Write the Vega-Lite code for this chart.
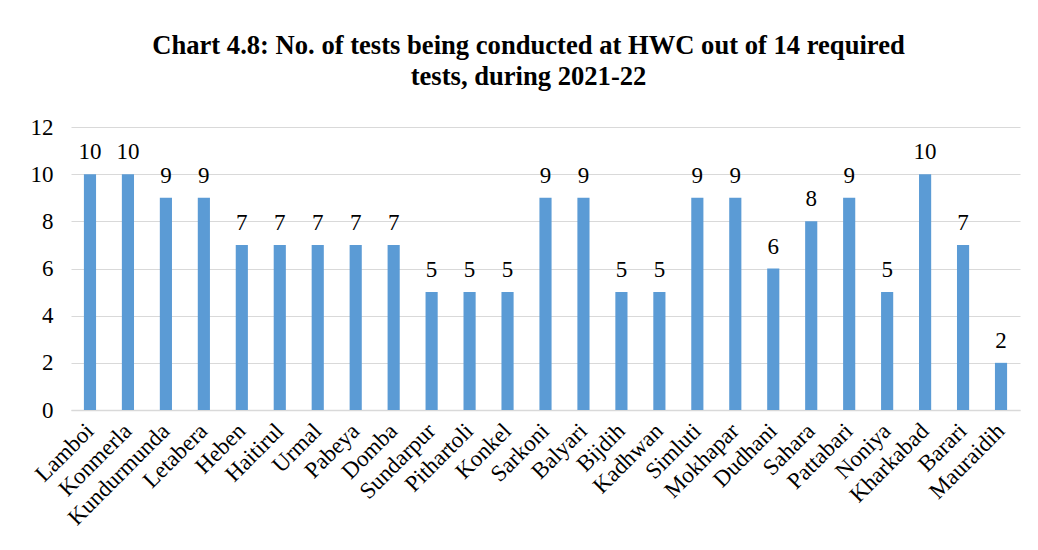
{
  "$schema": "https://vega.github.io/schema/vega-lite/v6.json",
  "autosize": "none",
  "width": 949,
  "height": 283,
  "padding": {"left": 71, "top": 127, "right": 18, "bottom": 140},
  "background": "white",
  "title": {
    "text": ["Chart 4.8: No. of tests being conducted at HWC out of 14 required", "tests, during 2021-22"],
    "font": "Liberation Serif",
    "fontSize": 26.6,
    "fontWeight": "bold",
    "color": "black",
    "anchor": "middle",
    "dx": -17,
    "offset": 25,
    "lineHeight": 31
  },
  "data": {
    "values": [
      {"hwc": "Lamboi", "tests": 10},
      {"hwc": "Konmerla", "tests": 10},
      {"hwc": "Kundurmunda", "tests": 9},
      {"hwc": "Letabera", "tests": 9},
      {"hwc": "Heben", "tests": 7},
      {"hwc": "Haitirul", "tests": 7},
      {"hwc": "Urmal", "tests": 7},
      {"hwc": "Pabeya", "tests": 7},
      {"hwc": "Domba", "tests": 7},
      {"hwc": "Sundarpur", "tests": 5},
      {"hwc": "Pithartoli", "tests": 5},
      {"hwc": "Konkel", "tests": 5},
      {"hwc": "Sarkoni", "tests": 9},
      {"hwc": "Balyari", "tests": 9},
      {"hwc": "Bijdih", "tests": 5},
      {"hwc": "Kadhwan", "tests": 5},
      {"hwc": "Simluti", "tests": 9},
      {"hwc": "Mokhapar", "tests": 9},
      {"hwc": "Dudhani", "tests": 6},
      {"hwc": "Sahara", "tests": 8},
      {"hwc": "Pattabari", "tests": 9},
      {"hwc": "Noniya", "tests": 5},
      {"hwc": "Kharkabad", "tests": 10},
      {"hwc": "Barari", "tests": 7},
      {"hwc": "Mauraidih", "tests": 2}
    ]
  },
  "encoding": {
    "x": {
      "field": "hwc",
      "type": "nominal",
      "sort": null,
      "scale": {"paddingInner": 0.68, "paddingOuter": 0.34},
      "axis": {
        "title": null,
        "labelAngle": -45,
        "labelAlign": "right",
        "labelBaseline": "middle",
        "labelFont": "Liberation Serif",
        "labelFontSize": 23,
        "labelColor": "black",
        "labelPadding": 17,
        "ticks": false,
        "domainColor": "#d9d9d9",
        "domainWidth": 1.5
      }
    },
    "y": {
      "field": "tests",
      "type": "quantitative",
      "scale": {"domain": [0, 12]},
      "axis": {
        "title": null,
        "values": [0, 2, 4, 6, 8, 10, 12],
        "labelFont": "Liberation Serif",
        "labelFontSize": 23,
        "labelColor": "black",
        "labelPadding": 18,
        "ticks": false,
        "domain": false,
        "gridColor": "#d9d9d9",
        "gridWidth": 1.2
      }
    }
  },
  "layer": [
    {"mark": {"type": "bar", "color": "#5B9BD5"}},
    {
      "mark": {"type": "text", "baseline": "bottom", "dy": -10, "font": "Liberation Serif", "fontSize": 23, "color": "black"},
      "encoding": {"text": {"field": "tests", "type": "quantitative"}}
    }
  ],
  "config": {"view": {"stroke": null}}
}
